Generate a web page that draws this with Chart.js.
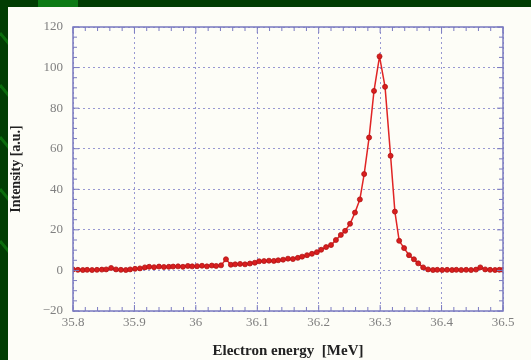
<!DOCTYPE html>
<html>
<head>
<meta charset="utf-8">
<script src="https://cdn.jsdelivr.net/npm/chart.js@4/dist/chart.umd.min.js"></script>
<style>
	html, body { margin: 0; padding: 0; background: #013d03; }
	#wrap { width: 531px; height: 360px; position: relative; }
</style>
</head>
<body>
<div id="wrap"><canvas id="spectrum-chart" width="531" height="360"></canvas></div>
<script>

const energies = [
	35.800, 35.808, 35.816, 35.823, 35.831, 35.839, 35.847, 35.854, 35.862, 35.870,
	35.878, 35.886, 35.893, 35.901, 35.909, 35.917, 35.924, 35.932, 35.940, 35.948,
	35.956, 35.963, 35.971, 35.979, 35.987, 35.994, 36.002, 36.010, 36.018, 36.026,
	36.033, 36.041, 36.049, 36.057, 36.064, 36.072, 36.080, 36.088, 36.096, 36.103,
	36.111, 36.119, 36.127, 36.134, 36.142, 36.150, 36.158, 36.166, 36.173, 36.181,
	36.189, 36.197, 36.204, 36.212, 36.220, 36.228, 36.236, 36.243, 36.251, 36.259,
	36.267, 36.274, 36.282, 36.290, 36.299, 36.308, 36.317, 36.324, 36.331, 36.339,
	36.347, 36.355, 36.362, 36.370, 36.378, 36.386, 36.393, 36.401, 36.409, 36.417,
	36.424, 36.432, 36.440, 36.448, 36.456, 36.463, 36.471, 36.479, 36.487, 36.494,
	36.500
];

const intensities = [
	0.5, 0.3, 0.2, 0.3, 0.2, 0.3, 0.4, 0.5, 1.2, 0.5,
	0.3, 0.2, 0.5, 0.8, 1.0, 1.5, 1.8, 1.6, 1.9, 1.7,
	1.8, 1.9, 2.0, 1.8, 2.2, 2.0, 2.1, 2.3, 2.0, 2.4,
	2.2, 2.5, 5.5, 2.8, 3.0, 3.2, 3.0, 3.4, 3.8, 4.5,
	4.6, 4.8, 4.7, 5.0, 5.3, 5.8, 5.6, 6.2, 6.8, 7.5,
	8.2, 9.0, 10.2, 11.5, 12.5, 15.0, 17.5, 19.5, 23.0, 28.5,
	35.0, 47.5, 65.5, 88.5, 105.5, 90.5, 56.5, 29.0, 14.6, 11.0,
	7.5, 5.5, 3.5, 1.5, 0.5, 0.2, 0.3, 0.2, 0.3, 0.2,
	0.3, 0.2, 0.3, 0.2, 0.4, 1.5, 0.5, 0.3, 0.2, 0.3,
	0.3
];

const xTickLabels = ['35.8', '35.9', '36', '36.1', '36.2', '36.3', '36.4', '36.5'];
const yTickLabels = ['-20', '0', '20', '40', '60', '80', '100', '120'];

function get_points() {
	const points = [];
	for ( let i = 0; i < energies.length; i++ ) {
		points.push({ x: energies[i], y: intensities[i] });
	}
	return points;
}

// dark slide background + light panel behind the plot
const slide_background = {
	id: 'slideBackground',
	beforeDraw(chart) {
		const ctx = chart.ctx;
		ctx.save();
		ctx.fillStyle = '#013d03';
		ctx.fillRect(0, 0, chart.width, chart.height);
		ctx.fillStyle = '#0c7a14';
		ctx.fillRect(38, 0, 40, 7);
		ctx.strokeStyle = '#0a6c0c';
		ctx.lineWidth = 3;
		for ( let y = 33; y < 260; y += 52 ) {
			ctx.beginPath();
			ctx.moveTo(0, y);
			ctx.lineTo(10, y + 12);
			ctx.stroke();
		}
		ctx.fillStyle = '#fdfdf7';
		ctx.fillRect(8, 7, chart.width - 8, chart.height - 7);
		ctx.restore();
	}
};

// frame and small inward ticks on all four sides
const frame_ticks = {
	id: 'frameTicks',
	afterDatasetsDraw(chart) {
		const ctx = chart.ctx;
		const a = chart.chartArea;
		const xs = chart.scales.x;
		const ys = chart.scales.y;
		ctx.save();
		ctx.strokeStyle = '#7a7ac0';
		ctx.lineWidth = 1;
		ctx.beginPath();
		for ( let v = 0; v <= 35; v++ ) {
			const px = xs.getPixelForValue(35.8 + v * 0.02);
			const len = ( v % 5 === 0 ) ? 6 : 4;
			ctx.moveTo(px, a.bottom); ctx.lineTo(px, a.bottom - len);
			ctx.moveTo(px, a.top); ctx.lineTo(px, a.top + len);
		}
		for ( let v = -20; v <= 120; v += 5 ) {
			const py = ys.getPixelForValue(v);
			const len = ( v % 20 === 0 ) ? 6 : 4;
			ctx.moveTo(a.left, py); ctx.lineTo(a.left + len, py);
			ctx.moveTo(a.right, py); ctx.lineTo(a.right - len, py);
		}
		ctx.stroke();
		ctx.lineWidth = 1.5;
		ctx.strokeRect(a.left, a.top, a.right - a.left, a.bottom - a.top);
		ctx.restore();
	}
};

const chart_ctx = document.getElementById('spectrum-chart');

if ( chart_ctx ) {
	new Chart(chart_ctx, {
		type: 'line',
		data: {
			datasets: [{
				data: get_points(),
				borderColor: '#e02424',
				borderWidth: 1.5,
				backgroundColor: '#d81e1e',
				pointBorderColor: '#b01414',
				pointBorderWidth: 0.8,
				pointRadius: 2.5,
				tension: 0
			}]
		},
		options: {
			responsive: false,
			animation: false,
			layout: { padding: { top: 27, right: 28, left: 0, bottom: 0 } },
			plugins: {
				legend: { display: false },
				tooltip: { enabled: false }
			},
			scales: {
				x: {
					type: 'linear',
					min: 35.8,
					max: 36.5,
					afterFit: function(scale) { scale.height = 49; },
					afterBuildTicks: function(scale) {
						scale.ticks = xTickLabels.map(function(t) { return { value: parseFloat(t) }; });
					},
					grid: { color: '#9898d2', lineWidth: 1, drawTicks: false },
					border: { display: false, dash: [2, 3] },
					ticks: {
						padding: 4,
						color: '#808080',
						font: { family: 'Liberation Serif', size: 13 },
						callback: function(value, index) { return xTickLabels[index]; }
					},
					title: {
						display: true,
						text: 'Electron energy  [MeV]',
						color: '#222222',
						padding: { top: 0, bottom: 0 },
						font: { family: 'Liberation Serif', size: 15, weight: 'bold' }
					}
				},
				y: {
					min: -20,
					max: 120,
					afterFit: function(scale) { scale.width = 73; },
					afterBuildTicks: function(scale) {
						scale.ticks = yTickLabels.map(function(t) { return { value: parseFloat(t) }; });
					},
					grid: { color: '#9898d2', lineWidth: 1, drawTicks: false },
					border: { display: false, dash: [2, 3] },
					ticks: {
						padding: 10,
						color: '#808080',
						font: { family: 'Liberation Serif', size: 13 },
						callback: function(value, index) { return yTickLabels[index].replace('-', '\u2212'); }
					},
					title: {
						display: true,
						text: 'Intensity [a.u.]',
						color: '#222222',
						padding: { top: 8, bottom: 0 },
						font: { family: 'Liberation Serif', size: 14, weight: 'bold' }
					}
				}
			}
		},
		plugins: [slide_background, frame_ticks]
	});
}
</script>
</body>
</html>
